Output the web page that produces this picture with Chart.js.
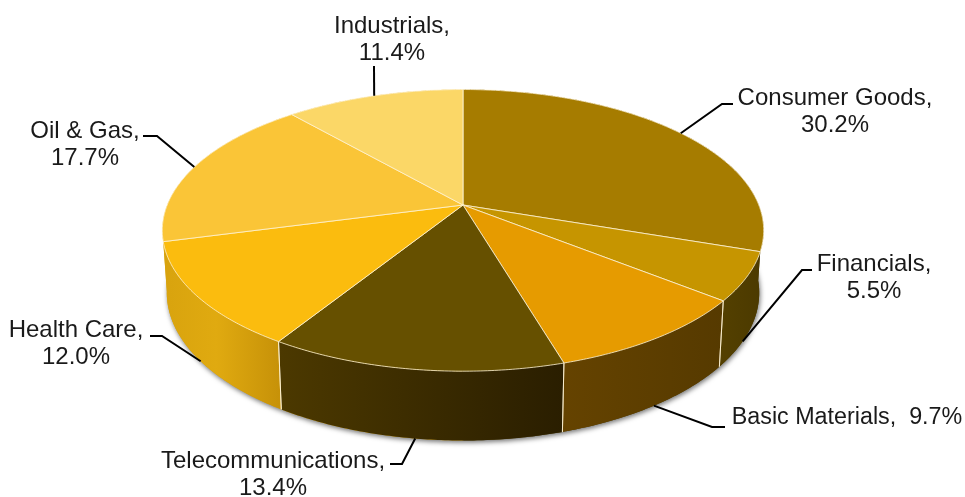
<!DOCTYPE html>
<html>
<head>
<meta charset="utf-8">
<style>
  html, body { margin: 0; padding: 0; background: #fff; }
  canvas { display: block; }
</style>
<script src="https://cdn.jsdelivr.net/npm/chart.js@4"></script>
</head>
<body>
<canvas id="sectors" width="965" height="497"></canvas>
<script>
// Portfolio share by sector, in percent, clockwise from twelve o'clock.
const sectorNames = ["Consumer Goods", "Financials", "Basic Materials", "Telecommunications", "Health Care", "Oil & Gas", "Industrials"];
const sectorShares = [30.2, 5.5, 9.7, 13.4, 12.0, 17.7, 11.4];

// Fill of the top face of each slice.
const topColors = ["#a67c00", "#c69500", "#e69b00", "#665000", "#fbbc0e", "#fac537", "#fbd767"];
// Side wall colours, left to right across the slice.
const wallColors = [
  ["#544000", "#4c3a00"],
  ["#544000", "#4c3a00"],
  ["#654300", "#563a00"],
  ["#4c3900", "#2a1e00"],
  ["#d8a30e", "#c69108"],
  ["#d8a30e", "#d8a30e"],
  ["#d8a30e", "#d8a30e"]
];
const wallMidStop = [null, null, null, null, "#e0aa10", null, null];

// Callout text placement: centre x, first line y, elbow point, and whether the
// leader starts on the lower rim of the disc.
const calloutLayout = [
  { x: 835, y: 98,  elbow: [722, 104], end: [733, 104], lower: false },
  { x: 874, y: 264, elbow: [802, 270], end: [812, 270], lower: true },
  { x: 847, y: 418, elbow: [712, 427], end: [725, 427], lower: true, oneLine: true },
  { x: 273, y: 461, elbow: [402, 464], end: [390, 464], lower: true },
  { x: 76,  y: 330, elbow: [162, 336], end: [150, 336], lower: true },
  { x: 85,  y: 131, elbow: [157, 136], end: [143, 136], lower: false },
  { x: 392, y: 26,  elbow: [374, 66],  end: [374, 66],  lower: false }
];

// Perspective of the disc, relative to the pie radius the library computes.
const view = { spreadX: 1.45, spreadY: 0.668, tilt: -0.18, floorShrink: 0.985, floorStretch: 1.05, floorDrop: 61 };

function project(el, angle, onFloor) {
  const u = Math.cos(angle), v = Math.sin(angle);
  const w = 1 + view.tilt * v;
  const dx = el.outerRadius * view.spreadX * u / w;
  const dy = el.outerRadius * view.spreadY * v / w;
  if (onFloor) {
    return [el.x + dx * view.floorShrink, el.y + view.floorDrop + dy * view.floorStretch];
  }
  return [el.x + dx, el.y + dy];
}

function arcPoints(el, from, to, onFloor) {
  const steps = Math.max(2, Math.ceil(Math.abs(to - from) / 0.01));
  const pts = [];
  for (let i = 0; i <= steps; i++) pts.push(project(el, from + (to - from) * i / steps, onFloor));
  return pts;
}

function tracePath(ctx, pts) {
  pts.forEach((p, i) => i ? ctx.lineTo(p[0], p[1]) : ctx.moveTo(p[0], p[1]));
}

const disc3d = {
  id: "disc3d",
  // The flat arcs are replaced by the projected disc built from the same elements.
  beforeDatasetsDraw(chart) {
    const ctx = chart.ctx;
    const arcs = chart.getDatasetMeta(0).data;
    const rimTone = "rgba(255,244,214,0.8)";
    ctx.save();

    // Soft contact shadow under the base; the base itself is hidden by the walls
    // apart from a sliver on each flank, so it takes the tone of that side.
    ctx.save();
    ctx.shadowColor = "rgba(0,0,0,0.55)";
    ctx.shadowBlur = 5;
    ctx.shadowOffsetX = 1;
    ctx.shadowOffsetY = 2;
    const base = ctx.createLinearGradient(arcs[0].x - 1, 0, arcs[0].x + 1, 0);
    base.addColorStop(0, "#d8a30e");
    base.addColorStop(1, "#4c3a00");
    ctx.fillStyle = base;
    ctx.beginPath();
    tracePath(ctx, arcPoints(arcs[0], 0, Math.PI * 2, true));
    ctx.closePath();
    ctx.fill();
    ctx.restore();

    // Side walls.
    arcs.forEach((el, i) => {
      const top = arcPoints(el, el.startAngle, el.endAngle, false);
      const floor = arcPoints(el, el.startAngle, el.endAngle, true);
      const xs = top.concat(floor).map(p => p[0]);
      const left = Math.min(...xs), right = Math.max(...xs);
      const grad = ctx.createLinearGradient(left, 0, right, 0);
      grad.addColorStop(0, wallColors[i][0]);
      if (wallMidStop[i]) grad.addColorStop(0.45, wallMidStop[i]);
      grad.addColorStop(1, wallColors[i][1]);
      ctx.fillStyle = grad;
      ctx.beginPath();
      tracePath(ctx, top.concat(floor.slice().reverse()));
      ctx.closePath();
      ctx.fill();
    });

    // Seams between neighbouring walls, only where they face the viewer.
    ctx.strokeStyle = rimTone;
    ctx.lineWidth = 1;
    arcs.forEach(el => {
      [el.startAngle, el.endAngle].forEach(a => {
        if (Math.sin(a) < 0.4) return;
        const p = project(el, a, false), q = project(el, a, true);
        ctx.beginPath();
        ctx.moveTo(p[0], p[1]);
        ctx.lineTo(q[0], q[1]);
        ctx.stroke();
      });
    });

    // Top faces with pale edges.
    arcs.forEach((el, i) => {
      ctx.beginPath();
      ctx.moveTo(el.x, el.y);
      arcPoints(el, el.startAngle, el.endAngle, false).forEach(p => ctx.lineTo(p[0], p[1]));
      ctx.closePath();
      ctx.fillStyle = topColors[i];
      ctx.fill();
      ctx.strokeStyle = rimTone;
      ctx.lineWidth = 1;
      ctx.stroke();
    });

    ctx.restore();
    return false;
  },
  afterDraw(chart) {
    const ctx = chart.ctx;
    const arcs = chart.getDatasetMeta(0).data;
    ctx.save();
    arcs.forEach((el, i) => {
      const layout = calloutLayout[i];
      const mid = (el.startAngle + el.endAngle) / 2;
      const anchor = project(el, mid, layout.lower);
      ctx.strokeStyle = "#000";
      ctx.lineWidth = 2;
      ctx.beginPath();
      ctx.moveTo(anchor[0], anchor[1]);
      ctx.lineTo(layout.elbow[0], layout.elbow[1]);
      ctx.lineTo(layout.end[0], layout.end[1]);
      ctx.stroke();

      const share = sectorShares[i].toFixed(1) + "%";
      ctx.fillStyle = "#1a1a1a";
      ctx.textAlign = "center";
      ctx.textBaseline = "middle";
      if (layout.oneLine) {
        ctx.font = '23.3px "Liberation Sans", Arial, sans-serif';
        ctx.fillText(sectorNames[i] + ",  " + share, layout.x, layout.y);
      } else {
        ctx.font = '24px "Liberation Sans", Arial, sans-serif';
        ctx.fillText(sectorNames[i] + ",", layout.x, layout.y);
        ctx.fillText(share, layout.x, layout.y + 27);
      }
    });
    ctx.restore();
  }
};

new Chart(document.getElementById("sectors"), {
  type: "pie",
  data: {
    labels: sectorNames,
    datasets: [{ data: sectorShares, backgroundColor: topColors }]
  },
  options: {
    responsive: false,
    animation: false,
    layout: { padding: { left: 0, right: 39, top: 0, bottom: 87 } },
    plugins: { legend: { display: false }, tooltip: { enabled: false } }
  },
  plugins: [disc3d]
});
</script>
</body>
</html>
